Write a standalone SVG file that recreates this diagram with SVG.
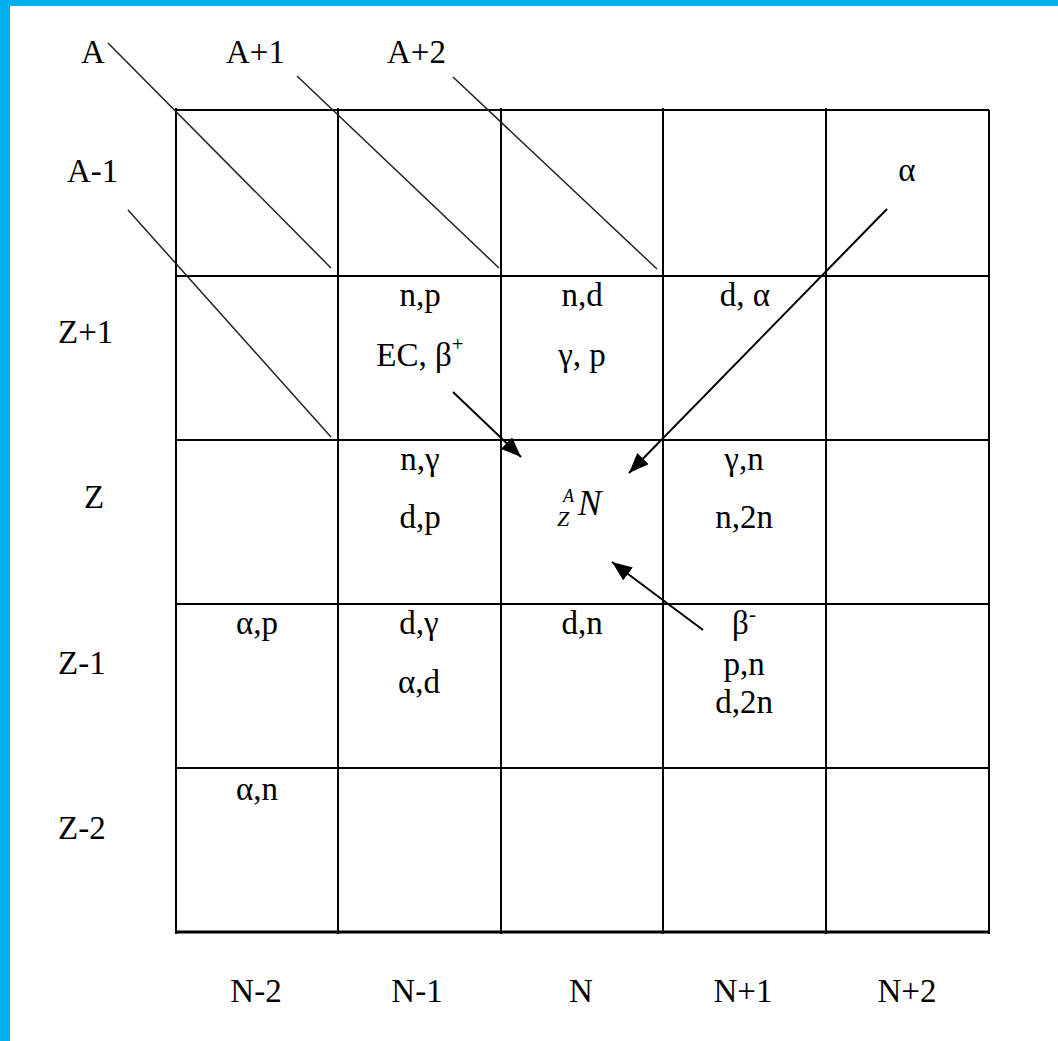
<svg xmlns="http://www.w3.org/2000/svg" width="1058" height="1041" viewBox="0 0 1058 1041">
  <defs>
    <style>
      text { font-family: "Liberation Serif", "Times New Roman", serif; font-size: 33px; fill: #000; }
      .c { text-anchor: middle; }
      .i { font-style: italic; }
      .s16 { font-size: 18px; }
      .s20 { font-size: 22px; }
      .s34 { font-size: 35px; }
      .grid { stroke: #000; stroke-width: 2; fill: none; }
      .diag { stroke: #222; stroke-width: 1.5; fill: none; }
      .arr { stroke: #000; stroke-width: 2; fill: none; marker-end: url(#ah); }
    </style>
    <marker id="ah" markerUnits="userSpaceOnUse" markerWidth="22" markerHeight="18" refX="20" refY="8" orient="auto">
      <path d="M0,0 L20,8 L0,16 Z" fill="#000"/>
    </marker>
  </defs>
  <rect x="0" y="0" width="1058" height="1041" fill="#fff"/>
  <g id="border" fill="#00B0F0">
    <rect x="0" y="0" width="1058" height="6"/>
    <rect x="0" y="0" width="10" height="1041"/>
  </g>

  <g id="grid" class="grid">
    <line x1="176" y1="110" x2="989" y2="110"/>
    <line x1="176" y1="276" x2="989" y2="276"/>
    <line x1="176" y1="440" x2="989" y2="440"/>
    <line x1="176" y1="604" x2="989" y2="604"/>
    <line x1="176" y1="768" x2="989" y2="768"/>
    <line x1="176" y1="932" x2="989" y2="932" stroke-width="3"/>
    <line x1="176" y1="108" x2="176" y2="934"/>
    <line x1="338" y1="108" x2="338" y2="934"/>
    <line x1="501" y1="108" x2="501" y2="934"/>
    <line x1="663" y1="108" x2="663" y2="934"/>
    <line x1="826" y1="108" x2="826" y2="934"/>
    <line x1="989" y1="110" x2="989" y2="934"/>
  </g>

  <g id="diagonals" class="diag">
    <line x1="108" y1="43" x2="331" y2="268"/>
    <line x1="297" y1="76" x2="499" y2="268"/>
    <line x1="453" y1="77" x2="657" y2="269"/>
    <line x1="128" y1="210" x2="331" y2="437"/>
  </g>

  <g id="labels-A">
    <text x="81" y="63">A</text>
    <text x="226" y="63">A+1</text>
    <text x="387" y="63">A+2</text>
    <text x="67" y="182">A-1</text>
  </g>
  <g id="labels-Z">
    <text x="58" y="343">Z+1</text>
    <text x="84" y="508">Z</text>
    <text x="58" y="674">Z-1</text>
    <text x="58" y="839">Z-2</text>
  </g>
  <g id="labels-N" class="c">
    <text x="256" y="1002">N-2</text>
    <text x="417" y="1002">N-1</text>
    <text x="581" y="1002">N</text>
    <text x="743" y="1002">N+1</text>
    <text x="907" y="1002">N+2</text>
  </g>

  <g id="cell-alpha" class="c"><text x="907" y="181">α</text></g>
  <g id="cell-np" class="c">
    <text x="420" y="306">n,p</text>
    <text x="420" y="366">EC, β<tspan dy="-15" style="font-size:21px">+</tspan></text>
  </g>
  <g id="cell-nd" class="c">
    <text x="582" y="306">n,d</text>
    <text x="582" y="366">γ, p</text>
  </g>
  <g id="cell-dalpha" class="c"><text x="745" y="306">d,  α</text></g>
  <g id="cell-ngamma" class="c">
    <text x="420" y="470">n,γ</text>
    <text x="420" y="528">d,p</text>
  </g>
  <g id="cell-nucleus">
    <text class="i s16" x="563" y="502">A</text>
    <text class="i s20" x="557" y="526">Z</text>
    <text class="i s34" x="578" y="515">N</text>
  </g>
  <g id="cell-gamman" class="c">
    <text x="744" y="470">γ,n</text>
    <text x="744" y="528">n,2n</text>
  </g>
  <g id="cell-alphap" class="c"><text x="257" y="634">α,p</text></g>
  <g id="cell-dgamma" class="c">
    <text x="419" y="634">d,γ</text>
    <text x="419" y="693">α,d</text>
  </g>
  <g id="cell-dn" class="c"><text x="582" y="634">d,n</text></g>
  <g id="cell-beta" class="c">
    <text x="744" y="634">β<tspan dy="-13" style="font-size:21px">-</tspan></text>
    <text x="744" y="675">p,n</text>
    <text x="744" y="713">d,2n</text>
  </g>
  <g id="cell-alphan" class="c"><text x="257" y="800">α,n</text></g>

  <g id="connectors" class="arr">
    <line x1="453" y1="392" x2="521" y2="457"/>
    <line x1="887" y1="209" x2="629" y2="473"/>
    <line x1="703" y1="630" x2="612" y2="562"/>
  </g>
</svg>
